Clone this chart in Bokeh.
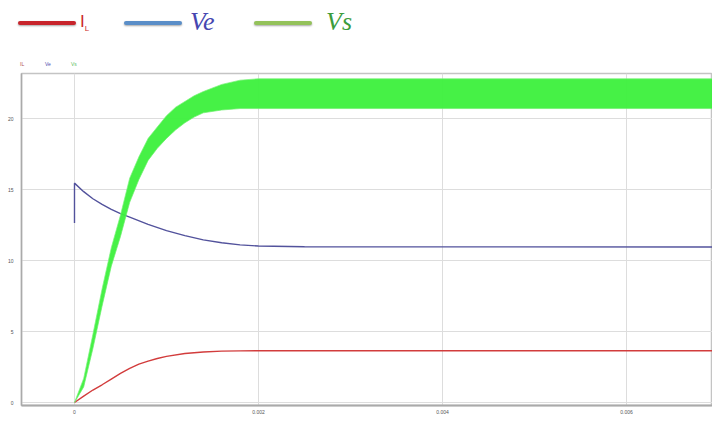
from bokeh.plotting import figure
from bokeh.layouts import column
from bokeh.models import Range1d, FixedTicker, Div
from bokeh.embed import file_html
from bokeh.resources import INLINE

# ---- data ----
t_il = [0, 0.0001, 0.0002, 0.0003, 0.0004, 0.0005, 0.0006, 0.0007, 0.0008, 0.0009,
        0.001, 0.0012, 0.0014, 0.0016, 0.0018, 0.002, 0.007]
il = [0, 0.45, 0.88, 1.25, 1.65, 2.05, 2.4, 2.7, 2.92, 3.1,
      3.25, 3.45, 3.56, 3.62, 3.64, 3.65, 3.65]

t_ve = [0, 0, 0.0001, 0.0002, 0.0003, 0.0004, 0.0005, 0.0006, 0.0008, 0.001,
        0.0012, 0.0014, 0.0016, 0.0018, 0.002, 0.0025, 0.007]
ve = [12.64, 15.45, 14.85, 14.35, 13.95, 13.6, 13.3, 13.05, 12.55, 12.1,
      11.75, 11.45, 11.25, 11.1, 11.02, 10.97, 10.95]

t_vs = [0, 0.0001, 0.0002, 0.0003, 0.0004, 0.0005, 0.0006, 0.0007, 0.0008, 0.0009,
        0.001, 0.0011, 0.0012, 0.0013, 0.0014, 0.0016, 0.0018, 0.002, 0.007]
vs_low = [0, 1.1, 3.8, 6.8, 9.6, 11.7, 14.1, 15.7, 17.05, 17.9,
          18.6, 19.2, 19.7, 20.1, 20.4, 20.6, 20.7, 20.7, 20.7]
vs_high = [0, 1.7, 4.8, 8.0, 10.9, 13.2, 15.8, 17.3, 18.6, 19.4,
           20.2, 20.8, 21.2, 21.6, 21.9, 22.4, 22.7, 22.8, 22.8]

x_ticks = [0, 0.002, 0.004, 0.006]
x_tick_labels = ["0", "0.002", "0.004", "0.006"]
y_ticks = [0, 5, 10, 15, 20]
y_tick_labels = ["0", "5", "10", "15", "20"]

RED = "#d23c3c"
BLUE = "#52529c"
GREEN = "#3cf03c"

# ---- legend (HTML) ----
def swatch(left, color):
    return (f'<div style="position:absolute;left:{left}px;top:21px;width:58px;height:4px;'
            f'background:{color};border-radius:2px;box-shadow:0 1px 2px rgba(0,0,0,0.35);"></div>')

legend_html = (
    '<div style="position:relative;width:712px;height:66px;">'
    + swatch(18, "#c8242b")
    + '<div style="position:absolute;left:80px;top:12px;font:17px \'Liberation Sans\';'
      'color:#cc2a2a;line-height:20px;">I<sub style="font-size:8px;">L</sub></div>'
    + swatch(124, "#5a8ec8")
    + '<div style="position:absolute;left:190px;top:7px;font:italic 26px \'Liberation Serif\';'
      'color:#4646b0;line-height:30px;">Ve</div>'
    + swatch(254, "#94c25a")
    + '<div style="position:absolute;left:326px;top:7px;font:italic 26px \'Liberation Serif\';'
      'color:#3c9c3c;line-height:30px;">Vs</div>'
    + '<div style="position:absolute;left:20px;top:61px;font:5px \'Liberation Sans\';'
      'color:#b05050;line-height:6px;">IL</div>'
    + '<div style="position:absolute;left:45px;top:61px;font:5px \'Liberation Sans\';'
      'color:#5050b0;line-height:6px;">Ve</div>'
    + '<div style="position:absolute;left:71px;top:61px;font:5px \'Liberation Sans\';'
      'color:#60c060;line-height:6px;">Vs</div>'
    + '</div>'
)
leg = Div(text=legend_html, width=712, height=66, margin=(0, 0, 0, 0))

# ---- main plot ----
p = figure(width=712, height=356, x_range=Range1d(-0.000576, 0.006935),
           y_range=Range1d(-0.21, 23.17), toolbar_location=None, output_backend="svg",
           min_border_left=21, min_border_right=0, min_border_top=7, min_border_bottom=17)
p.outline_line_color = "#c4c4c4"
p.outline_line_width = 1.5

p.xaxis.ticker = FixedTicker(ticks=x_ticks)
p.yaxis.ticker = FixedTicker(ticks=y_ticks)
p.xaxis.major_label_overrides = {k: v for k, v in zip(x_ticks, x_tick_labels)}
p.yaxis.major_label_overrides = {k: v for k, v in zip(y_ticks, y_tick_labels)}
for ax in (p.xaxis, p.yaxis):
    ax.major_tick_line_color = None
    ax.minor_tick_line_color = None
    ax.major_tick_out = 0
    ax.major_tick_in = 0
    ax.minor_tick_out = 0
    ax.major_label_text_font_size = "5px"
    ax.major_label_text_color = "#555555"
    ax.axis_line_color = "#aaaaaa"
p.xaxis.axis_line_width = 2
p.yaxis.axis_line_width = 1.5
p.xaxis.major_label_standoff = 4
p.yaxis.major_label_standoff = 8
p.grid.grid_line_color = "#dddddd"
p.grid.grid_line_width = 1

p.line(t_il, il, line_color=RED, line_width=1.4)
p.line(t_ve, ve, line_color=BLUE, line_width=1.4)
p.varea(x=t_vs, y1=vs_low, y2=vs_high, fill_color=GREEN, fill_alpha=0.95)
p.line(t_vs, vs_low, line_color="#6af06a", line_width=1, line_alpha=0.7)
p.line(t_vs, vs_high, line_color="#7af27a", line_width=1, line_alpha=0.7)

layout = column(leg, p, spacing=0)
open("out.html", "w").write(file_html(layout, INLINE))
